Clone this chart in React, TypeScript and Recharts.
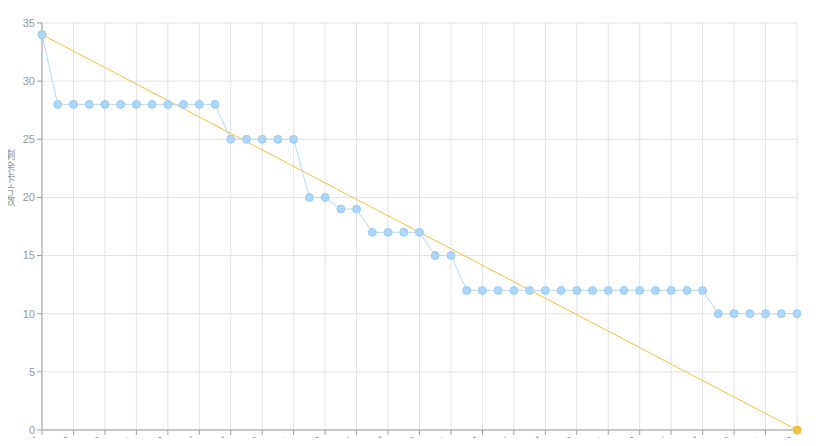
import React from "react";
import { CartesianGrid, Line, LineChart, XAxis, YAxis } from "recharts";

// sprint days, one label per point
const dates = [
  "03-26", "03-27", "03-28", "03-29", "03-30", "03-31",
  "04-01", "04-02", "04-03", "04-04", "04-05", "04-06", "04-07", "04-08", "04-09", "04-10",
  "04-11", "04-12", "04-13", "04-14", "04-15", "04-16", "04-17", "04-18", "04-19", "04-20",
  "04-21", "04-22", "04-23", "04-24", "04-25", "04-26", "04-27", "04-28", "04-29", "04-30",
  "05-01", "05-02", "05-03", "05-04", "05-05", "05-06", "05-07", "05-08", "05-09", "05-10",
  "05-11", "05-12", "05-13",
];

const remaining = [
  34, 28, 28, 28, 28, 28, 28, 28, 28, 28, 28, 28,
  25, 25, 25, 25, 25,
  20, 20, 19, 19,
  17, 17, 17, 17,
  15, 15,
  12, 12, 12, 12, 12, 12, 12, 12, 12, 12, 12, 12, 12, 12, 12, 12,
  10, 10, 10, 10, 10, 10,
];

const idealStart = 34;
const idealEnd = 0;

const yTicks = [0, 5, 10, 15, 20, 25, 30, 35];
const xTicks = dates.map((_, i) => i).filter((i) => i % 2 === 0);
const yLabel = "剩余卡片数";

const data = dates.map((d, i) => ({
  i,
  date: d,
  remaining: remaining[i],
  ideal: i === 0 ? idealStart : i === dates.length - 1 ? idealEnd : null,
}));

const axisColor = "#a0a0a0";
const font = "Liberation Sans, Arial, sans-serif";
const tickStyle = { fontSize: 11, fill: "#999", fontFamily: font };

const DateTick = (props: any) => {
  const { x, y, payload } = props;
  const ax = x - 2;
  const ay = y + 4;
  return (
    <text
      x={ax}
      y={ay}
      transform={`rotate(-45, ${ax}, ${ay})`}
      textAnchor="end"
      fontSize={11}
      fill="#999"
      fontFamily={font}
    >
      {dates[payload.value]}
    </text>
  );
};

export default function App() {
  return (
    <div style={{ margin: -8, width: 832, height: 446, overflow: "hidden", background: "#fff", position: "relative" }}>
      <LineChart width={832} height={500} data={data} margin={{ top: 23, right: 35, left: 0, bottom: 0 }}>
        <CartesianGrid stroke="#e2e2e2" />
        <XAxis
          dataKey="i"
          type="number"
          domain={[0, dates.length - 1]}
          ticks={xTicks}
          interval={0}
          height={70}
          tick={<DateTick />}
          stroke={axisColor}
          tickSize={5}
        />
        <YAxis
          domain={[0, 35]}
          ticks={yTicks}
          width={42}
          tick={tickStyle}
          stroke={axisColor}
          tickSize={5}
        />
        <Line
          dataKey="ideal"
          stroke="#f0c040"
          strokeWidth={1}
          connectNulls
          dot={{ r: 4, fill: "#f0c040", stroke: "#f0c040", strokeWidth: 1 }}
          isAnimationActive={false}
        />
        <Line
          dataKey="remaining"
          stroke="#b4daf5"
          strokeWidth={1}
          dot={{ r: 4, fill: "#acd5f7", stroke: "#9fcdf2", strokeWidth: 1 }}
          isAnimationActive={false}
        />
      </LineChart>
      <div
        style={{
          position: "absolute",
          left: 4,
          top: 149,
          width: 12,
          fontSize: 11,
          lineHeight: "11.5px",
          color: "#999",
          textAlign: "center",
          fontFamily: "Noto Sans CJK SC, sans-serif",
        }}
      >
        {yLabel.split("").map((c, k) => (
          <div key={k}>{c}</div>
        ))}
      </div>
    </div>
  );
}
